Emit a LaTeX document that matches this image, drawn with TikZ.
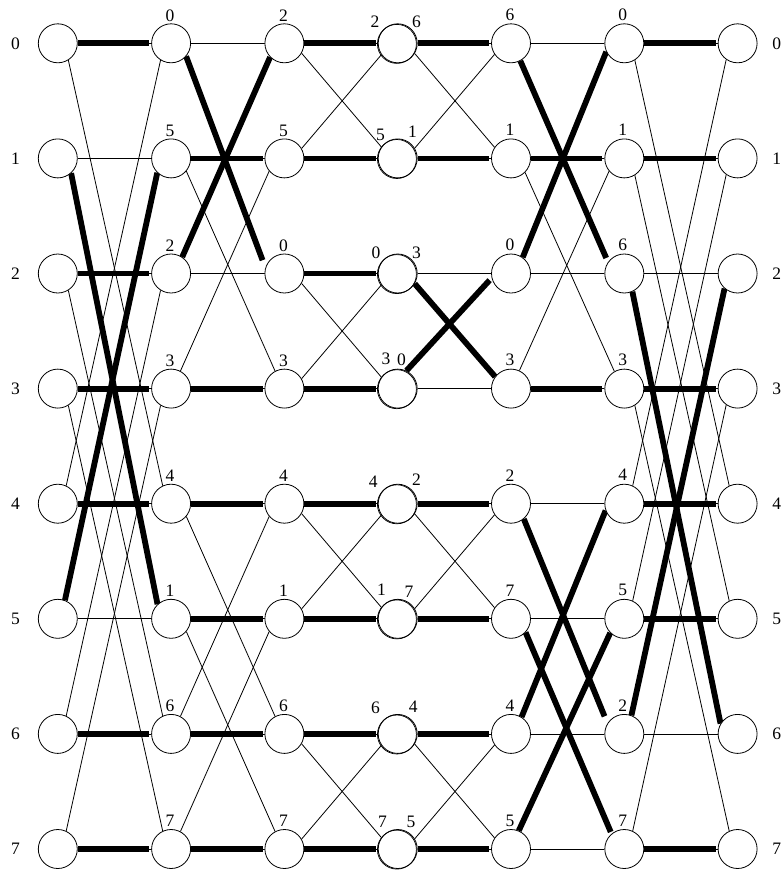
\documentclass[tikz,border=0pt]{standalone}
\usepackage{fontspec}
\setmainfont{Liberation Serif}
\usetikzlibrary{backgrounds,calc}
\begin{document}
\begin{tikzpicture}[x=1pt,y=-1pt,
  nd/.style={circle,draw,fill=white,line width=0.8pt,minimum size=39pt,inner sep=0pt},
  wire/.style={line width=0.8pt},
  route/.style={line width=5.8pt},
  lbl/.style={font=\fontsize{17.5}{17.5}\selectfont,inner sep=0pt}]
\useasboundingbox (0,0) rectangle (784,871);
% nodes
\foreach \c in {0,...,6}
  \foreach \r in {0,...,7}
    \node[nd] (n\c\r) at ({57.8+113.3*\c},{43.3+115.1*\r}) {};
% second rim on middle column
\foreach \r in {0,...,7}
  \draw[line width=0.7pt] ($(n3\r)+(-0.8,0.6)$) circle (19.5);
% row labels
\foreach \r in {0,...,7} {
  \node[lbl] (ll\r) at ($(n0\r)+(-42.3,0)$) {\r};
  \node[lbl] (rl\r) at ($(n6\r)+(39.2,0)$) {\r};
}
% column labels
\foreach \v [count=\r from 0] in {0,5,2,3,4,1,6,7}
  \node[lbl] (a1\r) at ($(n1\r)+(-1,-28)$) {\v};
\foreach \v [count=\r from 0] in {2,5,0,3,4,1,6,7}
  \node[lbl] (a2\r) at ($(n2\r)+(-1,-28)$) {\v};
\foreach \v/\dx/\dy [count=\r from 0] in {2/-22.8/-21.6, 5/-17.1/-23.4, 0/-21.8/-21.2, 3/-11.8/-30.3,
                                          4/-24.5/-22, 1/-16.1/-28.8, 6/-22.1/-25.7, 7/-15.1/-27.3}
  \node[lbl] (b3\r) at ($(n3\r)+(\dx,\dy)$) {\v};
\foreach \v/\dx/\dy [count=\r from 0] in {6/18.9/-21.6, 1/14.9/-26.7, 3/18.9/-21.2, 0/3.9/-28.6,
                                          2/18.9/-23.7, 7/11.2/-27.1, 4/15.5/-27.3, 5/13.2/-27.3}
  \node[lbl] (a3\r) at ($(n3\r)+(\dx,\dy)$) {\v};
\foreach \v [count=\r from 0] in {6,1,0,3,2,7,4,5}
  \node[lbl] (a4\r) at ($(n4\r)+(-1,-28.5)$) {\v};
\foreach \v [count=\r from 0] in {0,1,6,3,4,5,2,7}
  \node[lbl] (a5\r) at ($(n5\r)+(-1.5,-28.5)$) {\v};

\begin{scope}[on background layer]
\fill[white] (0,0) rectangle (784,871);
% all straight edges, thin
\foreach \c in {0,...,5} {
  \pgfmathtruncatemacro\d{\c+1}
  \foreach \r in {0,...,7}
    \draw[wire] (n\c\r.east) -- (n\d\r.west);
}
% thin cross edges: column/source row/target row/source angle/target angle
\foreach \c/\s/\t/\sa/\ta in {
  0/0/4/-58/115, 0/2/6/-58/115, 0/3/7/-58/115,
  0/4/0/65/-122, 0/6/2/65/-122, 0/7/3/65/-122,
  1/1/3/-40/118, 1/4/6/-40/118, 1/5/7/-40/118,
  1/3/1/62/-140, 1/6/4/62/-140, 1/7/5/62/-140,
  2/0/1/-30/145, 2/2/3/-30/145, 2/4/5/-30/145, 2/6/7/-30/145,
  2/1/0/30/-145, 2/3/2/30/-145, 2/5/4/30/-145, 2/7/6/30/-145,
  3/0/1/-31/146, 3/4/5/-31/146, 3/6/7/-31/146,
  3/1/0/31/-146, 3/5/4/31/-146, 3/7/6/31/-146,
  4/1/3/-45/120, 4/3/1/65/-140,
  5/0/4/-58/115, 5/1/5/-58/115, 5/3/7/-58/115,
  5/4/0/65/-125, 5/5/1/65/-125, 5/7/3/65/-125} {
  \pgfmathtruncatemacro\d{\c+1}
  \draw[wire] (n\c\s.\sa) -- (n\d\t.\ta);
}
% thick straight edges
\foreach \c/\r in {0/0,0/2,0/3,0/4,0/6,0/7,
                   1/1,1/3,1/4,1/5,1/6,1/7,
                   2/0,2/1,2/2,2/3,2/4,2/5,2/6,2/7,
                   3/0,3/1,3/4,3/5,3/6,3/7,
                   4/1,4/3,
                   5/0,5/1,5/3,5/4,5/5,5/7} {
  \pgfmathtruncatemacro\d{\c+1}
  \draw[route,shorten >=2pt] (n\c\r.east) -- (n\d\r.west);
}
% thick cross edges
\draw[route] (n01.-48) -- (n15.133);
\draw[route] (n05.69) -- (n11.-134);
\draw[route,shorten >=8pt] (n10.-41) -- (n22.163);
\draw[route] (n12.56) -- (n20.-136);
\draw[route] (n32.-31) -- (n43.143);
\draw[route,shorten >=3pt] (n33.64) -- (n42.-167);
\draw[route,shorten >=4.5pt] (n40.-62) -- (n52.145);
\draw[route] (n42.54) -- (n50.-155);
\draw[route,shorten >=7.6pt] (n44.-50) -- (n56.148);
\draw[route,shorten >=2pt] (n45.-43) -- (n57.130);
\draw[route] (n46.58) -- (n54.-160);
\draw[route] (n47.67) -- (n55.-135);
\draw[route] (n52.-66) -- (n66.149);
\draw[route] (n56.69) -- (n62.-131);
\end{scope}
\end{tikzpicture}
\end{document}
